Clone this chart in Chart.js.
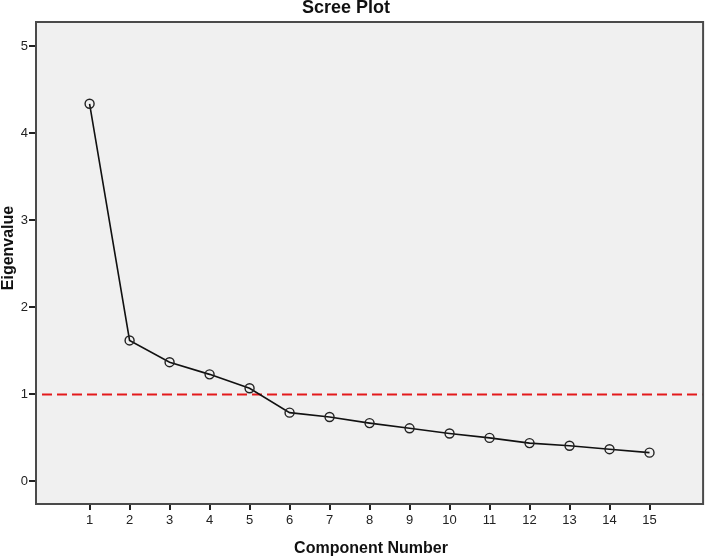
<!DOCTYPE html>
<html>
<head>
<meta charset="utf-8">
<script src="https://cdn.jsdelivr.net/npm/chart.js@4"></script>
<style>
  html, body { margin: 0; padding: 0; background: #fff; }
  #wrap { width: 709px; height: 558px; }
</style>
</head>
<body>
<div id="wrap"><canvas id="scree" width="709" height="558"></canvas></div>
<script>
// component numbers and their eigenvalues
const components = [1, 2, 3, 4, 5, 6, 7, 8, 9, 10, 11, 12, 13, 14, 15];
const eigenvalues = [4.34, 1.62, 1.37, 1.23, 1.07, 0.79, 0.74, 0.67, 0.61, 0.55, 0.50, 0.44, 0.41, 0.37, 0.33];
const yTicks = [0, 1, 2, 3, 4, 5];
const cutoff = 1; // Kaiser criterion line

const points = components.map((c, i) => ({ x: c, y: eigenvalues[i] }));

// gray plot background, frame, red cutoff line and text titles
const frame = {
  id: 'frame',
  beforeDatasetsDraw(chart) {
    const ctx = chart.ctx, a = chart.chartArea;
    ctx.save();
    ctx.fillStyle = '#f0f0f0';
    ctx.fillRect(a.left, a.top, a.right - a.left, a.bottom - a.top);
    // cutoff line
    const yy = Math.round(chart.scales.y.getPixelForValue(cutoff)) + 0.5;
    ctx.strokeStyle = '#e31a1c';
    ctx.lineWidth = 2;
    ctx.setLineDash([10, 5]);
    ctx.beginPath();
    ctx.moveTo(a.left + 6, yy);
    ctx.lineTo(a.right, yy);
    ctx.stroke();
    ctx.restore();
  },
  afterDraw(chart) {
    const ctx = chart.ctx, a = chart.chartArea;
    ctx.save();
    ctx.strokeStyle = '#4a4a4a';
    ctx.lineWidth = 2;
    ctx.strokeRect(a.left, a.top, a.right - a.left, a.bottom - a.top);
    ctx.fillStyle = '#111';
    ctx.font = 'bold 18px "Liberation Sans", Arial, sans-serif';
    ctx.textAlign = 'center';
    ctx.textBaseline = 'alphabetic';
    ctx.fillText('Scree Plot', 346, 13);
    ctx.font = 'bold 16px "Liberation Sans", Arial, sans-serif';
    ctx.fillText('Component Number', 371, 553);
    ctx.translate(13, 248);
    ctx.rotate(-Math.PI / 2);
    ctx.fillText('Eigenvalue', 0, 0);
    ctx.restore();
  }
};

new Chart(document.getElementById('scree'), {
  type: 'scatter',
  data: {
    datasets: [{
      data: points,
      showLine: true,
      borderColor: '#111',
      borderWidth: 1.6,
      pointRadius: 4.5,
      pointHoverRadius: 4.5,
      pointBackgroundColor: 'rgba(0,0,0,0)',
      pointBorderColor: '#222',
      pointBorderWidth: 1.4
    }]
  },
  options: {
    responsive: false,
    animation: false,
    layout: { padding: { top: 22, right: 2, left: 0, bottom: 0 } },
    plugins: { legend: { display: false }, tooltip: { enabled: false } },
    scales: {
      x: {
        type: 'linear',
        min: -0.34,
        max: 16.34,
        afterBuildTicks(s) { s.ticks = components.map(v => ({ value: v })); },
        afterFit(s) { s.height = 54; },
        grid: { drawOnChartArea: false, drawTicks: true, tickLength: 6, color: '#222', lineWidth: 2 },
        border: { display: false },
        ticks: { color: '#222', padding: 3, font: { family: '"Liberation Sans", Arial, sans-serif', size: 13 } }
      },
      y: {
        min: -0.26,
        max: 5.28,
        afterBuildTicks(s) { s.ticks = yTicks.map(v => ({ value: v })); },
        afterFit(s) { s.width = 36; },
        grid: { drawOnChartArea: false, drawTicks: true, tickLength: 7, color: '#222', lineWidth: 2 },
        border: { display: false },
        ticks: { color: '#222', padding: 1, font: { family: '"Liberation Sans", Arial, sans-serif', size: 13 } }
      }
    }
  },
  plugins: [frame]
});
</script>
</body>
</html>
